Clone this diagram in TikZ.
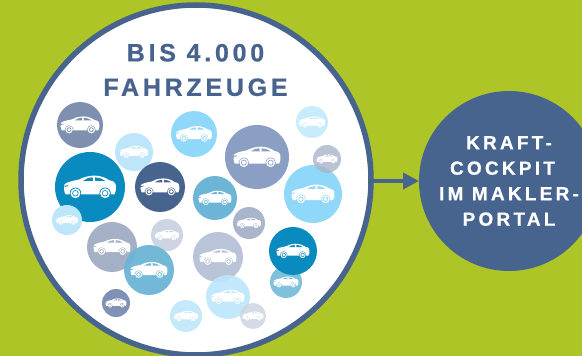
\documentclass[tikz,border=0pt]{standalone}
\usepackage{fontspec}
\setmainfont{Liberation Sans}
\newfontfamily\titlefont[LetterSpace=15,BoldFeatures={FakeBold=0.7}]{Liberation Sans}
\newfontfamily\portalfont[LetterSpace=17,BoldFeatures={FakeBold=0.7}]{Liberation Sans}
\usetikzlibrary{arrows.meta}
\definecolor{bggreen}{HTML}{AEC527}
\definecolor{navy}{HTML}{47648F}
\definecolor{cA}{HTML}{7F8FB0}
\definecolor{cB}{HTML}{BEE6FB}
\definecolor{cC}{HTML}{0A8BC0}
\definecolor{cD}{HTML}{8FD8FA}
\definecolor{cE}{HTML}{8A9FC3}
\definecolor{cF}{HTML}{C8ECFD}
\definecolor{cG}{HTML}{A8B4CA}
\definecolor{cH}{HTML}{6DB5D6}
\definecolor{cI}{HTML}{A9B5CA}
\definecolor{cJ}{HTML}{A3B0C6}
\definecolor{cK}{HTML}{CDD5E2}
\definecolor{cL}{HTML}{B9C4D8}
\definecolor{cM}{HTML}{BCE6FB}
\definecolor{cN}{HTML}{7FC0DC}
\definecolor{cO}{HTML}{C4E9FB}
\definecolor{cP}{HTML}{7F92B5}
\newcommand{\carcircle}[6]{% x, y, r, colour, opacity, car width
  \fill[#4,opacity=#5] (#1,#2) circle[radius=#3];
  \colorlet{detail}{#4!\fpeval{#5*100}!white}
  \begin{scope}[shift={(#1-#6/2,#2-0.22*#6)},x=#6/100*1pt,y=-#6/100*1pt]
    \fill[white] (3,36) .. controls (0,32) and (-0.5,24) .. (1,17)
      .. controls (4,13) and (16,10) .. (28,8)
      .. controls (36,4) and (44,0.5) .. (58,0)
      .. controls (70,0) and (80,4) .. (87,9)
      .. controls (93,10) and (98,12) .. (99,16)
      .. controls (101,22) and (100,31) .. (97,36) -- cycle;
    \fill[detail] (37,10) .. controls (42,6) and (47,4) .. (55,3.5) -- (56,10) -- cycle
      (60,3.5) .. controls (67,3.5) and (74,6) .. (79,10) -- (60,10) -- cycle
      (1,20) -- (7,18.5) -- (8,20) -- (1,22) -- cycle;
    \foreach \wx in {22,79}{
      \fill[detail] (\wx,34) circle[radius=11];
      \fill[white] (\wx,34) circle[radius=9.5];
      \fill[detail] (\wx,34) circle[radius=6.2];
      \fill[white] (\wx,34) circle[radius=4.5];
    }
  \end{scope}
}
\tikzset{
  bigring/.style={circle,draw=navy,fill=white,line width=5.5pt,minimum size=350pt,inner sep=0pt,outer sep=0pt},
  portalnode/.style={circle,fill=navy,minimum size=180pt,inner sep=0pt,outer sep=0pt,text=white,align=center,font=\portalfont\bfseries\fontsize{19}{25.5}\selectfont},
  titlenode/.style={text=navy,align=center,inner sep=0pt,font=\titlefont\bfseries\fontsize{25}{34.5}\selectfont},
  flow/.style={draw=navy,line width=3.6pt,-{Triangle[length=16pt,width=16pt]}}
}
\begin{document}
\begin{tikzpicture}[x=1pt,y=-1pt]
  \useasboundingbox (0,0) rectangle (582,356);
  \clip (0,0) rectangle (582,356);
  \fill[bggreen] (0,0) rectangle (582,356);
  \node[bigring] (big) at (196,180) {};
  \node[portalnode] (portal) at (509,181) {KRAFT-\\COCKPIT\hbox to 13pt{}\\IM MAKLER-\\PORTAL};
  \node[titlenode] (title) at (195.5,70) {BIS 4.000\\FAHRZEUGE};
  \draw[flow] (big.east |- portal.west) -- (portal.west);
  \carcircle{80}{125}{23}{cA}{1}{39}
  \carcircle{134}{152}{19}{cB}{1}{28}
  \carcircle{90}{187}{35}{cC}{1}{52}
  \carcircle{160}{187}{25}{navy}{1}{39}
  \carcircle{67}{220}{15}{cB}{1}{22}
  \carcircle{194}{134}{23}{cD}{1}{36}
  \carcircle{257}{157}{32}{cE}{1}{47}
  \carcircle{312}{122}{16}{cF}{1}{26}
  \carcircle{313}{194}{29}{cD}{1}{43}
  \carcircle{327}{159}{14}{cG}{0.8}{21}
  \carcircle{215}{198}{22}{cH}{1}{33}
  \carcircle{249}{223}{16}{cI}{1}{24}
  \carcircle{112}{247}{25}{cJ}{1}{37}
  \carcircle{167}{235}{16}{cK}{1}{24}
  \carcircle{149}{270}{25}{cH}{0.95}{37}
  \carcircle{218}{257}{25}{cL}{1}{37}
  \carcircle{228}{297}{22}{cM}{0.9}{33}
  \carcircle{253}{316}{13}{cK}{0.85}{21}
  \carcircle{286}{282}{16}{cN}{1}{25}
  \carcircle{293}{251}{24}{cC}{1}{33}
  \carcircle{186}{316}{16}{cO}{1}{24}
  \carcircle{116}{303}{14}{cP}{1}{21}
\end{tikzpicture}
\end{document}
